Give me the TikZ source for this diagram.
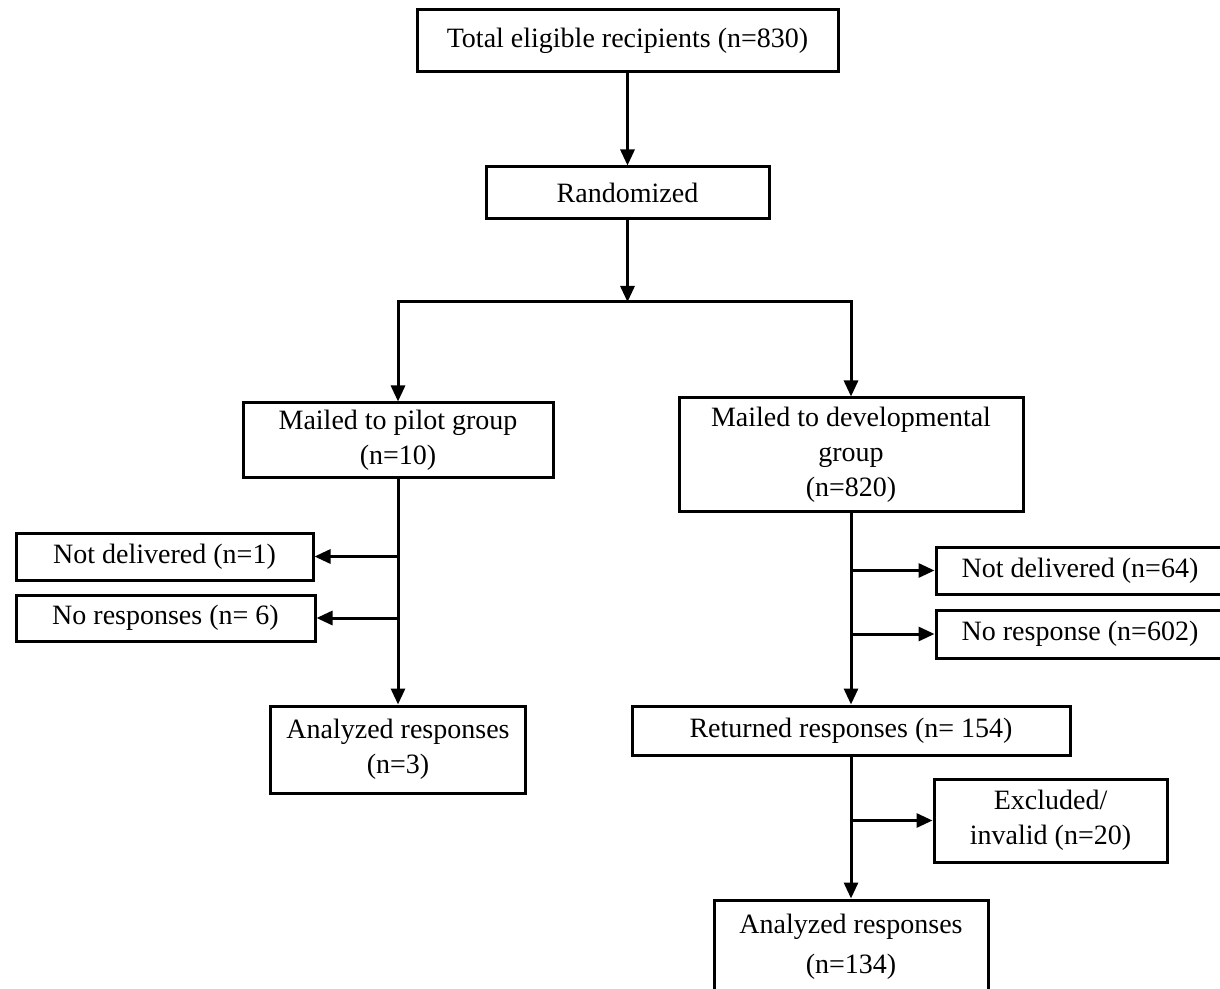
\documentclass[tikz,border=0pt]{standalone}
\usepackage{fontspec}
\setmainfont{Liberation Serif}
\usetikzlibrary{arrows.meta, positioning}

\begin{document}
\begin{tikzpicture}[
  x=0.5pt, y=-0.5pt,
  box/.style={draw, line width=1.5pt, align=center, inner sep=0pt,
              font=\fontsize{14}{17.5}\selectfont},
  link/.style={line width=1.5pt},
  arr/.style={link, -{Triangle[length=8pt, width=7pt]}},
]
  \useasboundingbox (0,0) rectangle (1220,989);

  % top of the chart
  \node[box, minimum width=210.5pt, minimum height=31pt] (total) at (627.5,41) {Total eligible recipients (n=830)};
  \node[box, minimum width=141.5pt, minimum height=26pt] (rand) at (627.5,193) {Randomized};
  \coordinate (split) at (627.5,302);

  % the two groups
  \node[box, minimum width=155pt, minimum height=37pt] (pilot) at (398,440) {Mailed to pilot group\\(n=10)};
  \node[box, minimum width=172pt, minimum height=56.5pt] (dev) at (851,454.5) {Mailed to developmental\\group\\(n=820)};

  % pilot side
  \node[box, minimum width=148.5pt, minimum height=23.5pt] (pilotnd) at (164.5,556.5) {Not delivered (n=1)};
  \node[box, minimum width=149.5pt, minimum height=23pt] (pilotnr) at (165.5,618) {No responses (n=~6)};
  \node[box, minimum width=127.5pt, minimum height=43.5pt] (pilotan) at (398,749.5) {Analyzed responses\\(n=3)};

  % developmental side
  \node[box, minimum width=144pt, minimum height=23.5pt] (devnd) at (1080,570.5) {Not delivered (n=64)};
  \node[box, minimum width=144pt, minimum height=24pt] (devnr) at (1080,634) {No response (n=602)};
  \node[box, minimum width=219pt, minimum height=24.5pt] (devret) at (851,730.5) {Returned responses (n=~154)};
  \node[box, minimum width=116.5pt, minimum height=41.5pt] (devex) at (1050.5,820.5) {Excluded/\\invalid (n=20)};
  \node[box, minimum width=137pt, minimum height=47pt, font=\fontsize{14}{20}\selectfont] (devan) at (851,947) {Analyzed responses\\(n=134)};

  % connectors
  \draw[arr] (total) -- (rand);
  \draw[arr] (rand) -- (split);
  \draw[link, line cap=rect] (split -| pilot.north) -- (split -| dev.north);
  \draw[arr] (split -| pilot.north) -- (pilot);
  \draw[arr] (split -| dev.north) -- (dev);

  \draw[arr] (pilot) -- (pilotan);
  \draw[arr] (pilot.south |- pilotnd) -- (pilotnd);
  \draw[arr] (pilot.south |- pilotnr) -- (pilotnr);

  \draw[arr] (dev) -- (devret);
  \draw[arr] (dev.south |- devnd) -- (devnd);
  \draw[arr] (dev.south |- devnr) -- (devnr);
  \draw[arr] (devret) -- (devan);
  \draw[arr] (devret.south |- devex) -- (devex);
\end{tikzpicture}
\end{document}
